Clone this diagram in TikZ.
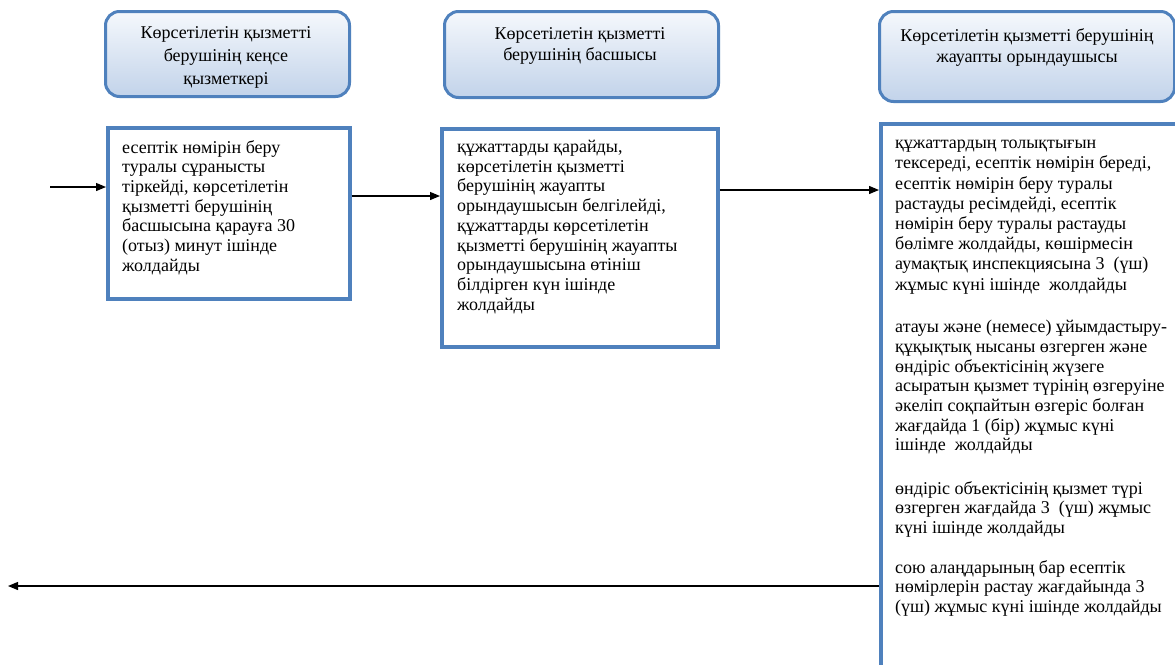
\documentclass[tikz,border=0pt]{standalone}
\usepackage{fontspec}
\setmainfont{Liberation Serif}
\usetikzlibrary{arrows.meta}
\definecolor{bord}{HTML}{4F81BD}
\definecolor{htop}{HTML}{F5F8FC}
\definecolor{hbot}{HTML}{C2D3EA}
\begin{document}
\begin{tikzpicture}[x=1pt,y=-1pt,
  header/.style={draw=bord, line width=3pt, rounded corners=14pt, top color=htop, bottom color=hbot, anchor=north west, inner sep=0pt},
  procbox/.style={draw=bord, line width=3.5pt, fill=white, anchor=north west, inner sep=0pt},
  htext/.style={align=center, font=\fontsize{18}{21}\selectfont, anchor=north, inner sep=0pt},
  btext/.style={align=left, font=\fontsize{18}{19.7}\selectfont, anchor=north west, inner sep=0pt},
  arr/.style={-{Triangle[length=10pt,width=8pt]}, line width=1.2pt, black}]
\useasboundingbox (0,0) rectangle (1175,664);
\fill[white] (0,0) rectangle (1175,664);

% headers
\node[header, minimum width=244pt, minimum height=85pt] (h1) at (104,10) {};
\node[header, minimum width=274pt, minimum height=86pt] (h2) at (443,10) {};
\node[header, minimum width=295pt, minimum height=90pt] (h3) at (878,10) {};
\node[htext, font=\fontsize{18}{23}\selectfont] (h1t) at (226,26) {Көрсетілетін қызметті\\берушінің кеңсе\\қызметкері};
\node[htext] (h2t) at (580,27) {Көрсетілетін қызметті\\берушінің басшысы};
\node[htext] (h3t) at (1027,28) {Көрсетілетін қызметті берушінің\\жауапты орындаушысы};

% process boxes
\node[procbox, minimum width=242pt, minimum height=171pt] (boxA) at (106,126) {};
\node[procbox, minimum width=276pt, minimum height=218pt] (boxB) at (440,127) {};
\begin{scope}
\clip (0,0) rectangle (1175,664);
\node[procbox, minimum width=297pt, minimum height=544pt] (boxC) at (879,122) {};
\end{scope}

\node[btext] (tA) at (122,140) {есептік нөмірін беру\\туралы сұранысты\\тіркейді, көрсетілетін\\қызметті берушінің\\басшысына қарауға 30\\(отыз) минут ішінде\\жолдайды};
\node[btext] (tB) at (457,140) {құжаттарды қарайды,\\көрсетілетін қызметті\\берушінің жауапты\\орындаушысын белгілейді,\\құжаттарды көрсетілетін\\қызметті берушінің жауапты\\орындаушысына өтініш\\білдірген күн ішінде\\жолдайды};
\node[btext, font=\fontsize{18}{20.2}\selectfont] (tC1) at (895,140) {құжаттардың толықтығын\\тексереді, есептік нөмірін береді,\\есептік нөмірін беру туралы\\растауды ресімдейді, есептік\\нөмірін беру туралы растауды\\бөлімге жолдайды, көшірмесін\\аумақтық инспекциясына 3~~(үш)\\жұмыс күні ішінде~~жолдайды};
\node[btext] (tC2) at (895,320) {атауы және (немесе) ұйымдастыру-\\құқықтық нысаны өзгерген және\\өндіріс объектісінің жүзеге\\асыратын қызмет түрінің өзгеруіне\\әкеліп соқпайтын өзгеріс болған\\жағдайда 1 (бір) жұмыс күні\\ішінде~~жолдайды};
\node[btext] (tC3) at (895,481) {өндіріс объектісінің қызмет түрі\\өзгерген жағдайда 3~~(үш) жұмыс\\күні ішінде жолдайды};
\node[btext] (tC4) at (895,560) {сою алаңдарының бар есептік\\нөмірлерін растау жағдайында 3\\(үш) жұмыс күні ішінде жолдайды};

% connectors
\coordinate (inStart) at (50,187);
\draw[arr] (inStart) -- (inStart -| boxA.west);
\coordinate (ab) at ([yshift=-70pt]boxA.north east);
\draw[arr] (ab) -- (ab -| boxB.west);
\coordinate (bc) at ([yshift=-63pt]boxB.north east);
\draw[arr] (bc) -- (bc -| boxC.west);
\coordinate (outEnd) at (8,586);
\draw[arr] (outEnd -| boxC.west) -- (outEnd);
\end{tikzpicture}
\end{document}
